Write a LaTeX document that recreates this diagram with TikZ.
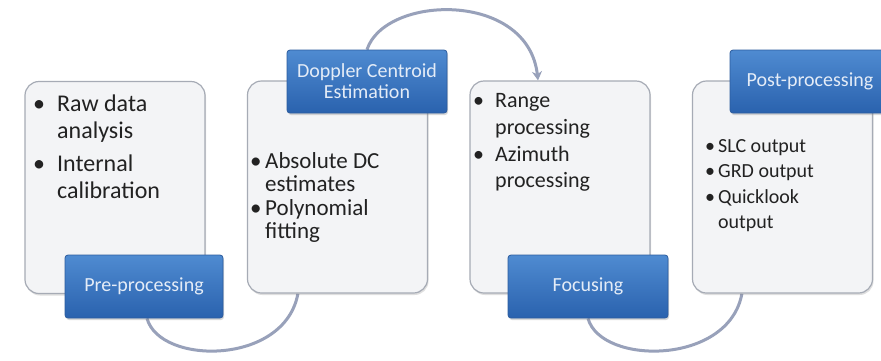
\documentclass[tikz,border=0pt]{standalone}
\usepackage{fontspec}
\setmainfont{Carlito}
\usetikzlibrary{shadows,arrows.meta}
\definecolor{boxfill}{HTML}{F3F4F6}
\definecolor{cardline}{HTML}{A6ABB5}
\definecolor{tagtop}{HTML}{4F8BD1}
\definecolor{tagbot}{HTML}{2A62AE}
\definecolor{tagline}{HTML}{2C5C9E}
\definecolor{tagtext}{HTML}{E4ECF7}
\definecolor{txt}{HTML}{222222}
\definecolor{flowc}{HTML}{98A1BA}
\pgfdeclarelayer{bg}
\pgfsetlayers{bg,main}
\begin{document}
\begin{tikzpicture}[x=1pt,y=-1pt,
  card/.style={draw=cardline, fill=boxfill, line width=1.2pt, rounded corners=14pt,
    minimum width=180pt, minimum height=212pt, inner sep=0pt,
    drop shadow={opacity=0.25, shadow xshift=1pt, shadow yshift=-2pt}},
  tag/.style={draw=tagline, line width=0.8pt, top color=tagtop, bottom color=tagbot,
    rounded corners=3pt, minimum width=158pt, minimum height=63pt, text=tagtext,
    font=\fontsize{20}{21}\selectfont, align=center, inner sep=0pt,
    drop shadow={opacity=0.3, shadow xshift=1pt, shadow yshift=-2pt}},
  list/.style={anchor=north west, inner sep=0pt, text=txt},
  flow/.style={draw=flowc, line width=3pt}]
\useasboundingbox (0,0) rectangle (881,360);
% content boxes
\node[card] (b1) at (115,187.5) {};
\node[card] (b2) at (337.5,187) {};
\node[card] (b3) at (560,187) {};
\node[card] (b4) at (782.5,187) {};
% lists
\node[list] (t1) at (33,92) {\fontsize{24}{27}\selectfont
  \begin{tabular}{@{}p{24pt}@{}l@{}}
  \textbullet & Raw data\\ & analysis\\[6pt]
  \textbullet & Internal\\ & calibration
  \end{tabular}};
\node[list] (t2) at (250,151.5) {\fontsize{23}{23.5}\selectfont
  \begin{tabular}{@{}p{15pt}@{}l@{}}
  \textbullet & Absolute DC\\ & estimates\\
  \textbullet & Polynomial\\ & fitting
  \end{tabular}};
\node[list] (t3) at (473,89) {\fontsize{22}{26.7}\selectfont
  \begin{tabular}{@{}p{22pt}@{}l@{}}
  \textbullet & Range\\ & processing\\
  \textbullet & Azimuth\\ & processing
  \end{tabular}};
\node[list] (t4) at (705,134) {\fontsize{20}{25.5}\selectfont
  \begin{tabular}{@{}p{13pt}@{}l@{}}
  \textbullet & SLC output\\
  \textbullet & GRD output\\
  \textbullet & Quicklook\\ & output
  \end{tabular}};
% labels
\node[tag] (p1) at (144,286.5) {Pre-processing};
\node[tag, minimum width=160pt] (p2) at (367,81.5) {Doppler Centroid\\Estimation};
\node[tag, minimum width=160pt] (p3) at (588,286.5) {Focusing};
\node[tag, minimum width=160pt] (p4) at (810,81.5) {Post-processing};
% connectors
\begin{pgfonlayer}{bg}
\fill[white] (0,0) rectangle (881,360);
\draw[flow] ([xshift=3pt]p1.south) .. controls +(13,47) and +(-13,72) .. ([xshift=51pt]b2.south west);
\draw[flow, -{Stealth[length=9pt,width=10pt]}] (p2.north) .. controls +(18,-55) and +(-10,-90) .. ([xshift=-22pt]b3.north);
\draw[flow] (p3.south) .. controls +(13,47) and +(-13,72) .. ([xshift=50pt]b4.south west);
\end{pgfonlayer}
\end{tikzpicture}
\end{document}
